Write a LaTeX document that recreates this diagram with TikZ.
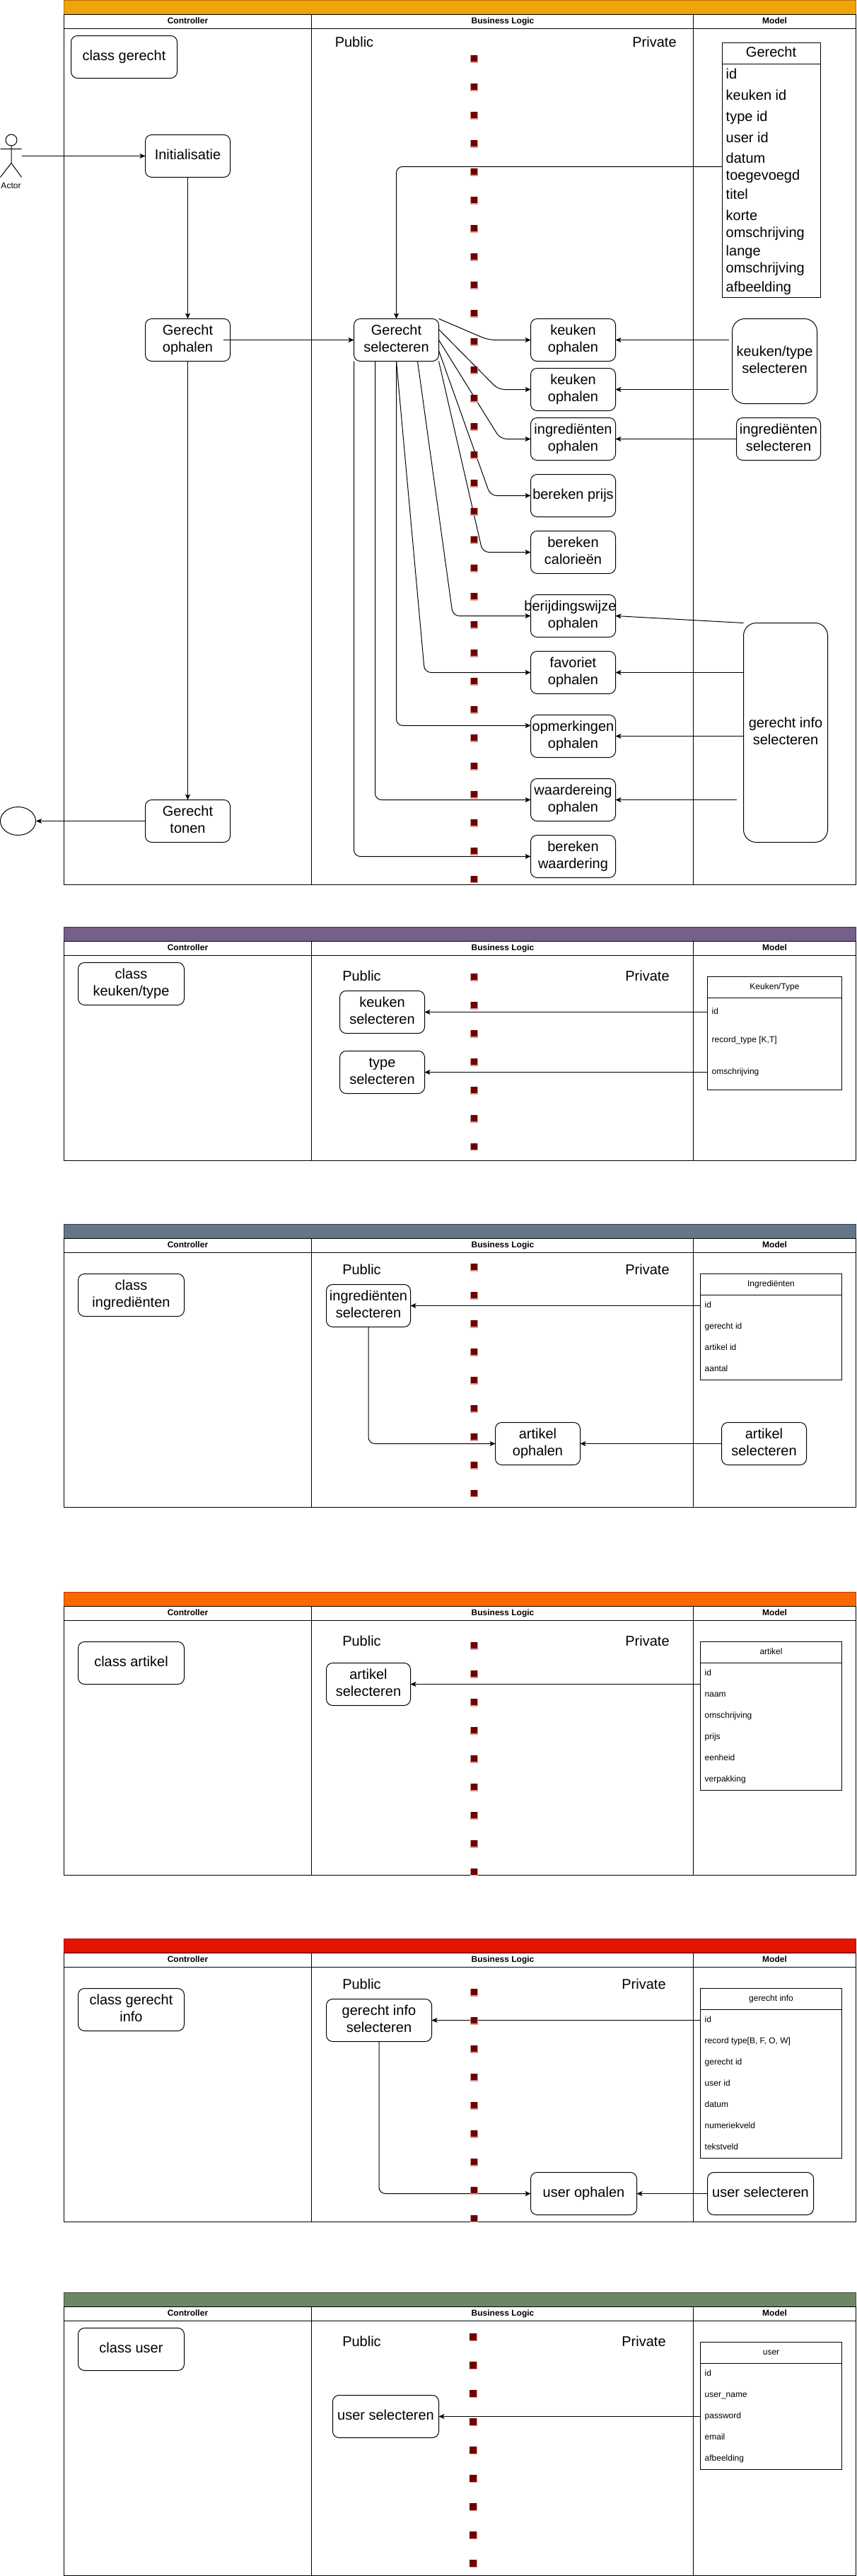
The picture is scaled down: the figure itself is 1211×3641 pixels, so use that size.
\documentclass[tikz,border=0pt]{standalone}
\usepackage{fontspec}
\setmainfont{Liberation Sans}
\usetikzlibrary{arrows.meta,shapes.geometric}
\definecolor{cOrangeA}{HTML}{F0A30A}\definecolor{sOrangeA}{HTML}{BD7000}
\definecolor{cPurple}{HTML}{76608A}\definecolor{sPurple}{HTML}{432D57}
\definecolor{cSlate}{HTML}{647687}\definecolor{sSlate}{HTML}{314354}
\definecolor{cOrangeB}{HTML}{FA6800}\definecolor{sOrangeB}{HTML}{C73500}
\definecolor{cRed}{HTML}{E51400}\definecolor{sRed}{HTML}{B20000}
\definecolor{cGreen}{HTML}{6D8764}\definecolor{sGreen}{HTML}{3A5431}
\definecolor{sqDark}{HTML}{6F0000}\definecolor{sqPale}{HTML}{D29A9A}
\tikzset{
  big/.style={font=\fontsize{20}{24}\selectfont},
  small/.style={font=\fontsize{12}{14}\selectfont},
  smallb/.style={font=\fontsize{12}{14}\selectfont\bfseries},
  boxst/.style={draw=black,line width=1pt,fill=white,rounded corners=#1,inner sep=0pt,outer sep=0pt,align=center,big},
  boxst/.default=9pt,
  tablest/.style={draw=black,line width=1pt,fill=white,inner sep=0pt,outer sep=0pt},
  lanest/.style={draw=black,line width=1.2pt},
  arr/.style={draw=black,line width=1pt,-{Stealth[length=8pt,width=7pt,inset=2pt]}},
  edge/.style={arr,rounded corners=9pt},
  squares/.style={draw=sqDark,line width=9.5pt,dash pattern=on 9.5pt off 30.5pt,dash phase=39.25pt,
    preaction={draw=sqPale,line width=11pt,dash pattern=on 11pt off 29pt}},
}
\newcommand{\twol}[2]{\strut #1\\\strut #2}
\newcommand{\mybox}[7][9pt]{%
  \pgfmathsetmacro\myw{#5-#3}\pgfmathsetmacro\myh{#6-#4}%
  \pgfmathsetmacro\myx{(#3+#5)/2}\pgfmathsetmacro\myy{(#4+#6)/2}%
  \node[boxst=#1,minimum width=\myw pt,minimum height=\myh pt] (#2) at (\myx,\myy) {#7};}
\newcommand{\mylane}[6]{%
  \pgfmathsetmacro\ya{#2+20}\pgfmathsetmacro\yb{#2+40}\pgfmathsetmacro\yc{#2+30}%
  \fill[#4] (90,#2) rectangle (1210,\ya);
  \draw[#5,line width=1pt] (90,#2) rectangle (1210,\ya);
  \draw[lanest] (90,\ya) rectangle (1210,#3);
  \draw[lanest] (90,\yb) -- (1210,\yb);
  \draw[black,line width=1pt] (440,\ya) -- (440,#3) (980,\ya) -- (980,#3);
  \node[smallb] (#1c) at (265,\yc) {\strut Controller};
  \node[smallb] (#1b) at (710.5,\yc) {\strut Business Logic};
  \node[smallb] (#1m) at (1095,\yc) {\strut Model};}
\newcommand{\mytable}[7]{%
  \pgfmathsetmacro\myw{#5-#3}\pgfmathsetmacro\myh{#6-#4}%
  \pgfmathsetmacro\myx{(#3+#5)/2}\pgfmathsetmacro\myy{(#4+#6)/2}%
  \node[tablest,minimum width=\myw pt,minimum height=\myh pt] (#1) at (\myx,\myy) {};
  \coordinate (#1h) at (#3,#2);
  \draw[black,line width=1.2pt] (#1h) -- (#1h -| #1.east);}
\newcommand{\myrow}[5]{\node[#1,anchor=west,inner sep=0pt,align=left] (#2) at (#3,#4) {\strut #5};}
\newcommand{\pubpriv}[4]{%
  \node[big] (#1pu) at (#2,#4) {\strut Public};
  \node[big] (#1pr) at (#3,#4) {\strut Private};}
\begin{document}
\begin{tikzpicture}[x=1pt,y=-1pt]
\useasboundingbox (0,0) rectangle (1211,3641);
\begin{scope}[shift={(0.5,0.5)}]
%% ---------- section 1
\mylane{a}{0}{1250}{cOrangeA}{sOrangeA}{}
\pubpriv{a}{500.5}{925}{61}
\mybox{ac}{100}{50}{250}{110}{\strut class gerecht}
\mybox{ai}{205}{190}{325}{250}{\strut Initialisatie}
\mybox{ago}{205}{450}{325}{510}{\twol{Gerecht}{ophalen}}
\mybox{agt}{205}{1130}{325}{1190}{\twol{Gerecht}{tonen}}
\mybox{ags}{500}{450}{620}{510}{\twol{Gerecht}{selecteren}}
\mybox{ak1}{750}{450}{870}{510}{\twol{keuken}{ophalen}}
\mybox{ak2}{750}{520}{870}{580}{\twol{keuken}{ophalen}}
\mybox{aio}{750}{590}{870}{650}{\twol{ingrediënten}{ophalen}}
\mybox{abp}{750}{670}{870}{730}{\strut bereken prijs}
\mybox{abc}{750}{750}{870}{810}{\twol{bereken}{calorieën}}
\mybox{abw}{750}{840}{870}{900}{\twol{\hbox to 120pt{\hss berijdingswijze\hss\kern8pt}}{ophalen}}
\mybox{afo}{750}{920}{870}{980}{\twol{favoriet}{ophalen}}
\mybox{aop}{750}{1010}{870}{1070}{\twol{opmerkingen}{ophalen}}
\mybox{awo}{750}{1100}{870}{1160}{\twol{waardereing}{ophalen}}
\mybox{awb}{750}{1180}{870}{1240}{\twol{bereken}{waardering}}
\mybox[18pt]{akt}{1035}{450}{1155}{570}{\twol{keuken/type}{selecteren}}
\mybox{ais}{1041}{590}{1160}{650}{\twol{ingrediënten}{selecteren}}
\mybox[18pt]{agi}{1051}{880}{1170}{1190}{\twol{gerecht info}{selecteren}}
\node[draw=black,line width=1pt,ellipse,fill=white,inner sep=0pt,minimum width=50pt,minimum height=40pt] (aend) at (25,1160) {};
% actor
\draw[black,line width=1pt] (15.5,197.5) circle (8);
\draw[black,line width=1pt] (15.5,205.5) -- (15.5,230) (0,210) -- (30,210) (0,250) -- (15.5,230) -- (30,250);
\coordinate (actor) at (30,220);
\node[small] (actorl) at (15,263) {\strut Actor};
% gerecht table
\mytable{atb}{90}{1021}{60}{1160}{420}{big}
\node[big] (atbt) at (1090,75) {\strut Gerecht};
\myrow{big}{ar1}{1026}{106}{id}
\myrow{big}{ar2}{1026}{136}{keuken id}
\myrow{big}{ar3}{1026}{166}{type id}
\myrow{big}{ar4}{1026}{196}{user id}
\myrow{big}{ar5}{1026}{237}{datum\\\strut toegevoegd}
\myrow{big}{ar6}{1026}{276}{titel}
\myrow{big}{ar7}{1026}{318}{korte\\\strut omschrijving}
\myrow{big}{ar8}{1026}{368}{lange\\\strut omschrijving}
\myrow{big}{ar9}{1026}{407}{afbeelding}
% edges
\draw[arr] (actor) -- (ai.west);
\draw[arr] (ai.south) -- (ago.north);
\draw[arr] (ago.south) -- (agt.north);
\draw[arr] ([xshift=-10pt]ago.east) -- (ags.west);
\draw[arr] (agt.west) -- (aend.east);
\draw[edge] (atb.west |- 0,235) -- (ags.north |- 0,235) -- (ags.north);
\draw[edge] (ags.north east) -- (690,480) -- (ak1.west);
\draw[edge] ([yshift=45pt]ags.south east) -- (704,550) -- (ak2.west);
\draw[edge] ([yshift=30pt]ags.south east) -- (707,620) -- (aio.west);
\draw[edge] ([yshift=15pt]ags.south east) -- (693,700) -- (abp.west);
\draw[edge] (ags.south east) -- (682,780) -- (abc.west);
\draw[edge] ([xshift=-30pt]ags.south east) -- (640,870) -- (abw.west);
\draw[edge] (ags.south) -- (600,950) -- (afo.west);
\draw[edge] (ags.south) -- (560,1025) -- (aop.west |- 0,1025);
\draw[edge] ([xshift=30pt]ags.south west) -- (530,1130) -- (awo.west);
\draw[edge] (ags.south west) -- (500,1210) -- (awb.west);
\draw[arr] (1030,480) -- (ak1.east);
\draw[arr] (1030,550) -- (ak2.east);
\draw[arr] (ais.west) -- (aio.east);
\draw[arr] (agi.north west) -- (abw.east);
\draw[arr] (agi.west |- afo.east) -- (afo.east);
\draw[arr] (agi.west |- aop.east) -- (aop.east);
\draw[arr] (1041,1130) -- (awo.east);
\draw[squares] (670,76.5) -- (670,1247.5);
%% ---------- section 2
\mylane{b}{1310}{1640}{cPurple}{sPurple}{}
\pubpriv{b}{511}{915}{1381}
\mybox{bc}{110}{1360}{260}{1420}{\twol{class}{keuken/type}}
\mybox{bks}{480}{1400}{600}{1460}{\twol{keuken}{selecteren}}
\mybox{bts}{480}{1485}{600}{1545}{\twol{type}{selecteren}}
\mytable{btb}{1410}{1000}{1380}{1190}{1540}{small}
\node[small] (btbt) at (1095,1395) {\strut Keuken/Type};
\myrow{small}{br1}{1006}{1430}{id}
\myrow{small}{br2}{1006}{1470}{record\_type [K,T]}
\myrow{small}{br3}{1006}{1515}{omschrijving}
\draw[arr] (btb.west |- bks.east) -- (bks.east);
\draw[arr] (btb.west |- bts.east) -- (bts.east);
\draw[squares] (670,1374.5) -- (670,1625.5);
%% ---------- section 3
\mylane{c}{1730}{2130}{cSlate}{sSlate}{}
\pubpriv{c}{511}{915}{1796}
\mybox{cc}{110}{1800}{260}{1860}{\twol{class}{ingrediënten}}
\mybox{cis}{461}{1815}{580}{1875}{\twol{ingrediënten}{selecteren}}
\mybox{cao}{700}{2010}{820}{2070}{\twol{artikel}{ophalen}}
\mybox{cas}{1020}{2010}{1140}{2070}{\twol{artikel}{selecteren}}
\mytable{ctb}{1830}{990}{1800}{1190}{1950}{small}
\node[small] (ctbt) at (1090,1815) {\strut Ingrediënten};
\myrow{small}{cr1}{996}{1845}{id}
\myrow{small}{cr2}{996}{1875}{gerecht id}
\myrow{small}{cr3}{996}{1905}{artikel id}
\myrow{small}{cr4}{996}{1935}{aantal}
\draw[arr] (ctb.west |- cis.east) -- (cis.east);
\draw[edge] (cis.south) -- (cis.south |- cao.west) -- (cao.west);
\draw[arr] (cas.west) -- (cao.east);
\draw[squares] (670,1784.5) -- (670,2115.5);
%% ---------- section 4
\mylane{d}{2250}{2650}{cOrangeB}{sOrangeB}{}
\pubpriv{d}{511}{915}{2321}
\mybox{dc}{110}{2320}{260}{2380}{\strut class artikel}
\mybox{das}{461}{2350}{580}{2410}{\twol{artikel}{selecteren}}
\mytable{dtb}{2350}{990}{2320}{1190}{2530}{small}
\node[small] (dtbt) at (1090,2335) {\strut artikel};
\myrow{small}{dr1}{996}{2365}{id}
\myrow{small}{dr2}{996}{2395}{naam}
\myrow{small}{dr3}{996}{2425}{omschrijving}
\myrow{small}{dr4}{996}{2455}{prijs}
\myrow{small}{dr5}{996}{2485}{eenheid}
\myrow{small}{dr6}{996}{2515}{verpakking}
\draw[arr] (dtb.west |- das.east) -- (das.east);
\draw[squares] (670,2319.5) -- (670,2650);
%% ---------- section 5
\mylane{e}{2740}{3140}{cRed}{sRed}{}
\pubpriv{e}{511}{910}{2806}
\mybox{ec}{110}{2810}{260}{2870}{\twol{class gerecht}{info}}
\mybox{egi}{461}{2825}{610}{2885}{\twol{gerecht info}{selecteren}}
\mybox{euo}{750}{3070}{900}{3130}{\strut user ophalen}
\mybox{eus}{1000}{3070}{1150}{3130}{\strut user selecteren}
\mytable{etb}{2840}{990}{2810}{1190}{3050}{small}
\node[small] (etbt) at (1090,2825) {\strut gerecht info};
\myrow{small}{er1}{996}{2855}{id}
\myrow{small}{er2}{996}{2885}{record type[B, F, O, W]}
\myrow{small}{er3}{996}{2915}{gerecht id}
\myrow{small}{er4}{996}{2945}{user id}
\myrow{small}{er5}{996}{2975}{datum}
\myrow{small}{er6}{996}{3005}{numeriekveld}
\myrow{small}{er7}{996}{3035}{tekstveld}
\draw[arr] (etb.west |- egi.east) -- (egi.east);
\draw[edge] (egi.south) -- (egi.south |- euo.west) -- (euo.west);
\draw[arr] (eus.west) -- (euo.east);
\draw[squares] (670,2809.5) -- (670,3140.5);
%% ---------- section 6
\mylane{f}{3240}{3640}{cGreen}{sGreen}{}
\pubpriv{f}{511}{910}{3311}
\mybox{fc}{110}{3290}{260}{3350}{\strut class user}
\mybox{fus}{470}{3385}{620}{3445}{\strut user selecteren}
\mytable{ftb}{3340}{990}{3310}{1190}{3490}{small}
\node[small] (ftbt) at (1090,3325) {\strut user};
\myrow{small}{fr1}{996}{3355}{id}
\myrow{small}{fr2}{996}{3385}{user\_name}
\myrow{small}{fr3}{996}{3415}{password}
\myrow{small}{fr4}{996}{3445}{email}
\myrow{small}{fr5}{996}{3475}{afbeelding}
\draw[arr] (ftb.west |- fus.east) -- (fus.east);
\draw[squares] (668.5,3297) -- (668.5,3628);
\end{scope}
\end{tikzpicture}
\end{document}
